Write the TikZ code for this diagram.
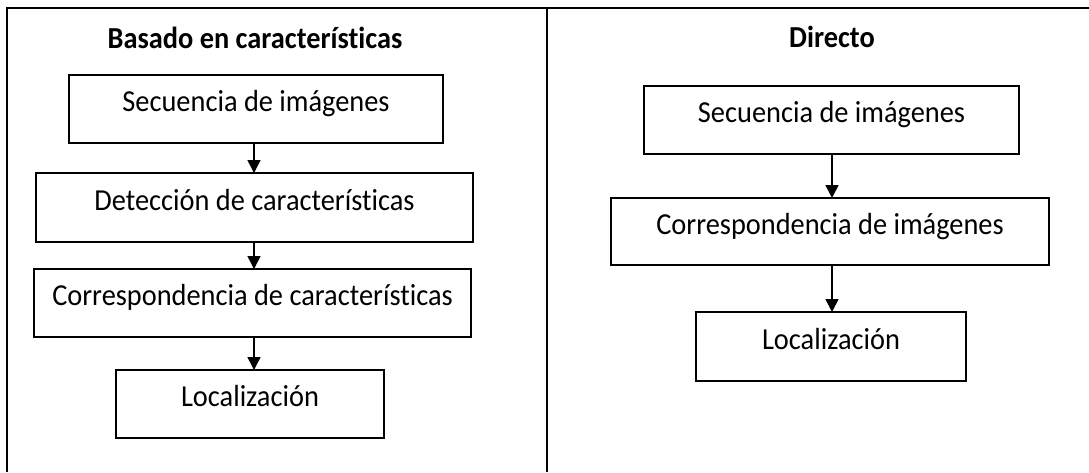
\documentclass[tikz,border=0pt]{standalone}
\usepackage{fontspec}
\setmainfont{Carlito}[Ligatures={TeX,NoCommon},FakeStretch=0.93]
\usetikzlibrary{arrows.meta}
\begin{document}
\begin{tikzpicture}[x=1pt,y=-1pt,
  stepbox/.style={draw=black,line width=1.6pt,inner sep=0pt,outer sep=0pt,
    font=\fontsize{30.5}{36}\selectfont,text height=0.75em,text depth=0.22em},
  title/.style={font=\fontsize{30.5}{36}\selectfont\bfseries,anchor=base},
  flow/.style={line width=1.5pt,-{Triangle[width=13pt,length=13pt]}},
  rule/.style={line width=1.6pt}]
\useasboundingbox (0,0) rectangle (1089,472);

% table frame
\coordinate (tl) at (7,8);
\coordinate (tr) at (1089,8);
\coordinate (bl) at (7,472);
\coordinate (mt) at (547,8);
\coordinate (mb) at (547,472);
\draw[rule] (bl) -- (tl) -- (tr);
\draw[rule] (mt) -- (mb);

% left column: feature-based pipeline
\node[title] (tleft) at (255,48) {Basado en características};
\node[stepbox,minimum width=374pt,minimum height=68pt] (l1) at (256,109) {Secuencia de imágenes};
\node[stepbox,minimum width=437pt,minimum height=69pt] (l2) at (254.5,207.5) {Detección de características};
\node[stepbox,minimum width=437pt,minimum height=68pt] (l3) at (252.5,303) {Correspondencia de características};
\node[stepbox,minimum width=268pt,minimum height=68pt] (l4) at (250,404) {Localización};
\coordinate (la) at (254,0);
\draw[flow] (l1.south -| la) -- (l2.north -| la);
\draw[flow] (l2.south -| la) -- (l3.north -| la);
\draw[flow] (l3.south -| la) -- (l4.north -| la);

% right column: direct pipeline
\node[title] (tright) at (832,47) {Directo};
\node[stepbox,minimum width=375pt,minimum height=68pt] (r1) at (831.5,120) {Secuencia de imágenes};
\node[stepbox,minimum width=438pt,minimum height=67pt] (r2) at (830,231.5) {Correspondencia de imágenes};
\node[stepbox,minimum width=270pt,minimum height=69pt] (r3) at (831,346.5) {Localización};
\coordinate (ra) at (832,0);
\draw[flow] (r1.south -| ra) -- (r2.north -| ra);
\draw[flow] (r2.south -| ra) -- (r3.north -| ra);
\end{tikzpicture}
\end{document}
